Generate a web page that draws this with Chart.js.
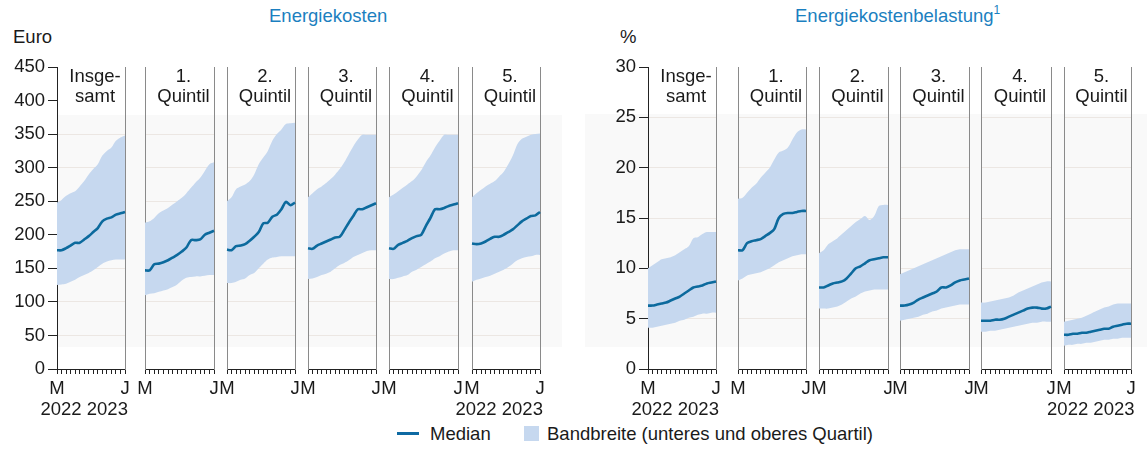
<!DOCTYPE html>
<html lang="de">
<head>
<meta charset="utf-8">
<script src="https://cdn.jsdelivr.net/npm/chart.js@4.4.1/dist/chart.umd.min.js"></script>
<style>
  html, body { margin: 0; padding: 0; background: #fff; }
  body {
    position: relative; width: 1147px; height: 465px; overflow: hidden;
    font-family: "Liberation Sans", Arial, sans-serif; font-size: 18.5px; color: #1a1a1a;
  }
  canvas.sub { position: absolute; }
  .txt { position: absolute; line-height: 20px; white-space: nowrap; }
  .heading { color: #1b7fc0; }
  .heading sup { font-size: 12px; line-height: 0; vertical-align: 8px; }
  .gtitle { text-align: center; }
  .haze { position: absolute; background: #f9f9f9; }
  .swatch { position: absolute; }
</style>
</head>
<body>
<div class="haze" style="left:57px; top:115px; width:505px; height:232px;"></div>
<div class="haze" style="left:585px; top:114px; width:562px; height:233px;"></div>

<div class="txt heading" style="left:269px; top:6px;">Energiekosten</div>
<div class="txt heading" style="left:795px; top:6px;">Energiekostenbelastung<sup>1</sup></div>
<div class="txt" style="left:13px; top:27px;">Euro</div>
<div class="txt" style="left:620px; top:27px;">%</div>

<div class="swatch" style="left:397px; top:432px; width:22px; height:3px; background:#0e6aa3;"></div>
<div class="txt" style="left:430px; top:424px;">Median</div>
<div class="swatch" style="left:524px; top:426px; width:15px; height:15px; background:#c6d8ef;"></div>
<div class="txt" style="left:547px; top:424px;">Bandbreite (unteres und oberes Quartil)</div>

<script>
// Monate März 2022 bis Juni 2023
const MONTHS = ['Mär 2022', 'Apr 2022', 'Mai 2022', 'Jun 2022', 'Jul 2022', 'Aug 2022',
  'Sep 2022', 'Okt 2022', 'Nov 2022', 'Dez 2022', 'Jan 2023', 'Feb 2023',
  'Mär 2023', 'Apr 2023', 'Mai 2023', 'Jun 2023'];
const GROUP_TITLES = [['Insge-', 'samt'], ['1.', 'Quintil'], ['2.', 'Quintil'],
  ['3.', 'Quintil'], ['4.', 'Quintil'], ['5.', 'Quintil']];
const X_FIRST = 'M';
const X_LAST = 'J';
const YEARS = ['2022', '2023'];

// Energiekosten in Euro, eine Zeile je Gruppe (Insgesamt, 1.-5. Quintil)
const KOSTEN_MEDIAN = [
  [177, 177, 180, 184, 188, 188, 193, 198, 204, 210, 220, 224, 226, 230, 232, 234],
  [147, 147, 156, 157, 159, 162, 166, 170, 175, 181, 192, 192, 193, 200, 203, 206],
  [178, 177, 183, 184, 186, 191, 197, 204, 217, 218, 227, 230, 238, 249, 244, 248],
  [180, 179, 184, 187, 190, 193, 196, 197, 207, 218, 228, 238, 238, 241, 244, 247],
  [180, 179, 185, 188, 191, 195, 198, 200, 213, 225, 238, 238, 240, 243, 245, 247],
  [187, 186, 187, 190, 194, 197, 197, 200, 204, 208, 214, 220, 224, 228, 229, 234]
];
const KOSTEN_OBEN = [
  [248, 252, 258, 262, 265, 272, 280, 290, 298, 305, 318, 325, 330, 340, 345, 348],
  [218, 220, 225, 232, 236, 240, 245, 250, 255, 262, 270, 278, 285, 295, 305, 308],
  [250, 256, 268, 272, 275, 280, 290, 305, 315, 325, 340, 350, 357, 365, 366, 367],
  [256, 262, 268, 272, 277, 283, 290, 298, 308, 320, 332, 342, 349, 349, 349, 349],
  [256, 260, 265, 270, 275, 280, 287, 296, 308, 318, 330, 340, 349, 349, 349, 349],
  [256, 262, 267, 272, 276, 280, 287, 294, 305, 318, 335, 343, 346, 349, 350, 351]
];
const KOSTEN_UNTEN = [
  [125, 126, 127, 130, 133, 137, 140, 143, 147, 152, 157, 160, 162, 163, 163, 163],
  [110, 112, 113, 115, 117, 119, 122, 126, 132, 136, 137, 138, 138, 139, 140, 140],
  [128, 128, 130, 133, 135, 140, 143, 150, 157, 163, 166, 167, 168, 168, 168, 168],
  [134, 135, 137, 140, 142, 145, 150, 155, 158, 162, 167, 170, 173, 176, 177, 177],
  [134, 134, 136, 138, 140, 145, 148, 152, 156, 160, 165, 168, 172, 175, 177, 177],
  [130, 133, 135, 137, 139, 142, 145, 148, 152, 157, 162, 165, 167, 168, 170, 170]
];

// Energiekostenbelastung in %
const BELASTUNG_MEDIAN = [
  [6.3, 6.3, 6.4, 6.5, 6.6, 6.8, 7.0, 7.2, 7.5, 7.8, 8.1, 8.2, 8.3, 8.5, 8.6, 8.7],
  [11.8, 11.8, 12.5, 12.7, 12.8, 12.9, 13.2, 13.5, 13.9, 15.0, 15.4, 15.5, 15.5, 15.6, 15.7, 15.7],
  [8.1, 8.1, 8.3, 8.5, 8.6, 8.7, 9.0, 9.5, 10.0, 10.2, 10.5, 10.8, 10.9, 11.0, 11.1, 11.1],
  [6.3, 6.3, 6.4, 6.6, 6.9, 7.1, 7.3, 7.5, 7.7, 8.1, 8.1, 8.3, 8.6, 8.8, 8.9, 9.0],
  [4.8, 4.8, 4.8, 4.9, 4.9, 5.0, 5.2, 5.4, 5.6, 5.8, 6.0, 6.1, 6.1, 6.0, 6.0, 6.2],
  [3.4, 3.4, 3.5, 3.5, 3.6, 3.6, 3.7, 3.8, 3.9, 4.0, 4.0, 4.2, 4.3, 4.4, 4.5, 4.5]
];
const BELASTUNG_OBEN = [
  [10.0, 10.3, 10.6, 10.9, 11.0, 11.1, 11.3, 11.6, 11.9, 12.2, 13.0, 13.1, 13.4, 13.6, 13.6, 13.6],
  [16.9, 17.0, 17.5, 18.0, 18.4, 19.0, 19.5, 20.0, 20.8, 21.5, 21.7, 22.0, 22.8, 23.5, 23.8, 23.8],
  [11.5, 11.8, 12.4, 12.7, 13.0, 13.4, 13.8, 14.2, 14.6, 14.9, 15.2, 14.8, 15.2, 16.2, 16.3, 16.3],
  [9.4, 9.6, 9.8, 10.0, 10.2, 10.4, 10.6, 10.8, 11.0, 11.2, 11.4, 11.6, 11.8, 11.9, 11.9, 11.9],
  [6.6, 6.6, 6.7, 6.8, 6.9, 7.0, 7.1, 7.3, 7.6, 7.8, 8.0, 8.2, 8.4, 8.6, 8.7, 8.7],
  [4.7, 4.8, 4.9, 5.0, 5.1, 5.3, 5.5, 5.7, 5.9, 6.1, 6.2, 6.4, 6.5, 6.5, 6.5, 6.5]
];
const BELASTUNG_UNTEN = [
  [4.1, 4.1, 4.2, 4.3, 4.4, 4.5, 4.6, 4.8, 4.9, 5.1, 5.2, 5.4, 5.5, 5.5, 5.6, 5.6],
  [8.8, 9.0, 9.3, 9.4, 9.5, 9.6, 9.8, 10.0, 10.3, 10.6, 10.8, 11.0, 11.2, 11.3, 11.4, 11.4],
  [6.0, 6.0, 6.0, 6.1, 6.2, 6.4, 6.7, 7.0, 7.2, 7.5, 7.7, 7.8, 7.9, 7.9, 7.9, 7.9],
  [4.8, 4.9, 5.0, 5.1, 5.2, 5.4, 5.5, 5.7, 5.8, 6.0, 6.1, 6.2, 6.3, 6.4, 6.4, 6.4],
  [3.7, 3.7, 3.8, 3.8, 3.9, 4.0, 4.1, 4.2, 4.3, 4.4, 4.5, 4.6, 4.6, 4.7, 4.7, 4.7],
  [2.3, 2.4, 2.4, 2.5, 2.5, 2.6, 2.6, 2.7, 2.8, 2.9, 2.9, 3.0, 3.0, 3.1, 3.1, 3.1]
];

// Layout (Pixel): Plotflächen der Teilgrafiken
const LEFT_AREAS = [[57, 133], [145, 222], [227, 303], [308, 384], [389, 466], [472, 548]];
const RIGHT_AREAS = [[648, 724], [738, 814], [819, 896], [900, 977], [981, 1059], [1064, 1139]];
const AREA_TOP = 67;
const AREA_BOTTOM = 369;
const CANVAS_TOP = 50;
const SIDE_PAD = 20;
const XAXIS_H = 60;
const YEAR_IDX = 6; // Jahreszeile unter der Mitte der Teilgrafik

const FONT = { family: "'Liberation Sans', Arial, sans-serif", size: 18.5, lineHeight: 1.1 };
const TEXT = '#1a1a1a';
const AXIS = '#222222';
const FRAME = '#8a8a8a';
const GRID = '#ece7e3';
const LINE = '#0c6a9d';
const BAND = '#c6d8ef';

function xLabel(i, withYears) {
  if (i === 0) return X_FIRST;
  if (i === MONTHS.length - 1) return X_LAST;
  if (withYears && i === YEAR_IDX) return ['', YEARS.join(' ')];
  return '';
}

function addSub(panel, g) {
  var area = panel.areas[g];
  var first = g === 0;
  var last = g === panel.areas.length - 1;
  var left = first ? panel.axisLeft : area[0] - SIDE_PAD;
  var width = area[1] + SIDE_PAD - left;
  var padTop = AREA_TOP - CANVAS_TOP;
  var height = padTop + (AREA_BOTTOM - AREA_TOP) + XAXIS_H;

  var canvas = document.createElement('canvas');
  canvas.className = 'sub';
  canvas.width = width;
  canvas.height = height;
  canvas.style.left = left + 'px';
  canvas.style.top = CANVAS_TOP + 'px';
  document.body.appendChild(canvas);

  var title = document.createElement('div');
  title.className = 'txt gtitle';
  title.style.left = area[0] + 'px';
  title.style.top = '66px';
  title.style.width = (area[1] - area[0]) + 'px';
  title.innerHTML = GROUP_TITLES[g].join('<br>');
  document.body.appendChild(title);

  new Chart(canvas, {
    type: 'line',
    data: {
      labels: MONTHS,
      datasets: [
        { label: 'Median', data: panel.median[g], borderColor: LINE, borderWidth: 2.6,
          pointRadius: 0, tension: 0.3, fill: false },
        { label: 'oberes Quartil', data: panel.high[g], borderWidth: 0, pointRadius: 0,
          tension: 0.3, backgroundColor: BAND, fill: '+1' },
        { label: 'unteres Quartil', data: panel.low[g], borderWidth: 0, pointRadius: 0,
          tension: 0.3, fill: false }
      ]
    },
    options: {
      responsive: false,
      animation: false,
      events: [],
      layout: { padding: { left: first ? 0 : SIDE_PAD, right: SIDE_PAD, top: padTop, bottom: 0 } },
      plugins: {
        legend: { display: false },
        tooltip: { enabled: false },
        filler: { drawTime: 'beforeDatasetsDraw' }
      },
      scales: {
        x: {
          type: 'category',
          offset: false,
          grid: { display: true, drawOnChartArea: false, drawTicks: true, tickLength: 5,
            color: AXIS, tickColor: AXIS },
          border: { display: true, color: AXIS, width: 1 },
          ticks: {
            autoSkip: false, maxRotation: 0, minRotation: 0, padding: 5,
            color: TEXT, font: FONT,
            callback: function (v, i) { return xLabel(i, first || last); }
          },
          afterFit: function (s) { s.height = XAXIS_H; }
        },
        y: {
          min: 0, max: panel.max,
          grid: {
            drawTicks: first, tickLength: 9, tickColor: AXIS,
            color: function (ctx) {
              var v = ctx.tick ? ctx.tick.value : 0;
              return (v === 0 || v >= panel.gridUntil) ? 'rgba(0,0,0,0)' : GRID;
            }
          },
          border: { display: true, color: first ? AXIS : FRAME, width: 1 },
          ticks: { display: first, stepSize: panel.step, padding: 3, color: TEXT, font: FONT },
          afterFit: first ? function (s) { s.width = panel.areas[0][0] - panel.axisLeft; } : undefined
        },
        yRight: {
          position: 'right',
          grid: { display: false },
          ticks: { display: false },
          border: { display: true, color: FRAME, width: 1 }
        }
      }
    }
  });
}

var panels = [
  { areas: LEFT_AREAS, axisLeft: 0, max: 450, step: 50, gridUntil: 400,
    median: KOSTEN_MEDIAN, high: KOSTEN_OBEN, low: KOSTEN_UNTEN },
  { areas: RIGHT_AREAS, axisLeft: 590, max: 30, step: 5, gridUntil: 30,
    median: BELASTUNG_MEDIAN, high: BELASTUNG_OBEN, low: BELASTUNG_UNTEN }
];

panels.forEach(function (p) {
  for (var g = 0; g < p.areas.length; g++) addSub(p, g);
});
</script>
</body>
</html>
